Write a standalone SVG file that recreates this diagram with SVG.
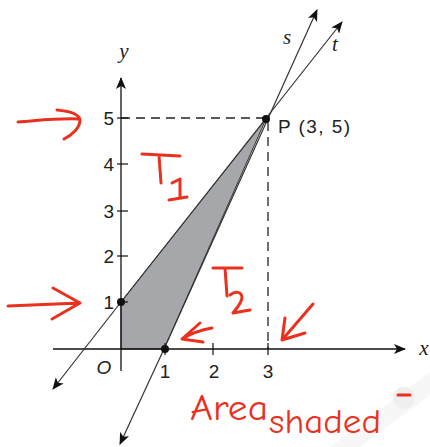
<svg xmlns="http://www.w3.org/2000/svg" width="430" height="447" viewBox="0 0 430 447">
<defs>
<marker id="arr" viewBox="0 0 12 10" refX="11" refY="5" markerWidth="12" markerHeight="10" markerUnits="userSpaceOnUse" orient="auto">
<path d="M0,0 L12,5 L0,10 L3,5 Z" fill="#111"/>
</marker>
<style>
.ax{stroke:#111;stroke-width:1.3;fill:none}
.ln{stroke:#333;stroke-width:1.2;fill:none}
.dash{stroke:#222;stroke-width:1.3;stroke-dasharray:9 6;fill:none}
.tick{stroke:#111;stroke-width:1.2}
.num{font-family:"Liberation Sans",Arial,sans-serif;font-size:19px;fill:#222}
.var{font-family:"Liberation Serif","Times New Roman",serif;font-style:italic;font-size:21px;fill:#222}
.red{stroke:#e8321f;stroke-width:3;fill:none;stroke-linecap:round;stroke-linejoin:round}
.redt{font-family:"Comic Neue","Liberation Sans",sans-serif;fill:#e8321f}
</style>
</defs>
<rect width="430" height="447" fill="#fff"/>
<g id="watermark" opacity="0.6">
<path d="M330,447 L430,372 L430,395 L360,447 Z" fill="#f2f2f2"/>
<circle cx="404" cy="398" r="11" fill="#e6e6e6"/>
</g>
<g id="region">
<polygon points="121,302 266,119 164,349 121,349" fill="#a6a7aa" stroke="#333" stroke-width="1"/>
</g>
<g id="connectors">
<line class="dash" x1="121" y1="118" x2="266" y2="118"/>
<line class="dash" x1="268" y1="122" x2="268" y2="349"/>
<line class="ax" x1="53" y1="349" x2="405" y2="349" marker-end="url(#arr)"/>
<line class="ax" x1="121" y1="371" x2="121" y2="78" marker-end="url(#arr)"/>
<line class="ln" x1="121" y1="302" x2="53" y2="389" marker-end="url(#arr)"/>
<line class="ln" x1="121" y1="302" x2="342" y2="22" marker-end="url(#arr)"/>
<line class="ln" x1="164" y1="349" x2="120" y2="444" marker-end="url(#arr)"/>
<line class="ln" x1="164" y1="349" x2="317" y2="10" marker-end="url(#arr)"/>
</g>
<g id="ticks">
<line class="tick" x1="117" y1="118" x2="128" y2="118"/>
<line class="tick" x1="117" y1="164" x2="128" y2="164"/>
<line class="tick" x1="117" y1="211" x2="128" y2="211"/>
<line class="tick" x1="117" y1="256" x2="128" y2="256"/>
<line class="tick" x1="117" y1="302" x2="128" y2="302"/>
<line class="tick" x1="165" y1="343" x2="165" y2="355"/>
<line class="tick" x1="213" y1="343" x2="213" y2="355"/>
<line class="tick" x1="268" y1="343" x2="268" y2="355"/>
</g>
<g id="labels">
<text class="num" x="114" y="125" text-anchor="end">5</text>
<text class="num" x="114" y="171" text-anchor="end">4</text>
<text class="num" x="114" y="218" text-anchor="end">3</text>
<text class="num" x="114" y="263" text-anchor="end">2</text>
<text class="num" x="114" y="309" text-anchor="end">1</text>
<text class="num" x="165" y="378" text-anchor="middle">1</text>
<text class="num" x="214" y="378" text-anchor="middle">2</text>
<text class="num" x="268" y="378" text-anchor="middle">3</text>
<text class="num" x="104" y="374" text-anchor="middle" font-style="italic" font-size="20">O</text>
<text class="var" x="424" y="355" text-anchor="middle">x</text>
<text class="var" x="124" y="58" text-anchor="middle">y</text>
<text class="var" x="287" y="44" text-anchor="middle">s</text>
<text class="var" x="335" y="51" text-anchor="middle">t</text>
<text class="num" x="278" y="133" textLength="72">P (3, 5)</text>
</g>
<g id="points" fill="#111">
<circle cx="121" cy="302" r="4"/>
<circle cx="165" cy="349" r="4"/>
<circle cx="266" cy="119" r="4"/>
</g>
<g id="annotations">
<path class="red" d="M18,122 C35,121 55,118 79,119 M57,110 C68,111 79,113 80,120 C80,128 72,135 64,139"/>
<path class="red" d="M8,306 L80,303 M53,288 L80,303 L52,319"/>
<path class="red" d="M142,154 L180,156 M159,156 L161,183"/>
<path class="red" d="M172,183 L180,179 L180,198 M169,200 L187,197"/>
<path class="red" d="M213,268 L242,268 M225,268 L227,296"/>
<path class="red" d="M230,295 C235,291 242,291 242,298 C241,304 236,309 233,313 L250,310"/>
<path class="red" d="M212,328 C200,330 190,334 182,339 M200,323 L182,339 L203,342"/>
<path class="red" d="M313,304 L282,340 M285,318 L282,340 L305,333"/>
<text class="redt" x="190" y="420" font-size="36" textLength="78" lengthAdjust="spacingAndGlyphs">Area</text>
<text class="redt" x="269" y="433" font-size="34" textLength="112" lengthAdjust="spacingAndGlyphs">shaded</text>
<path class="red" d="M398,395 L410,395"/>
</g>
</svg>
